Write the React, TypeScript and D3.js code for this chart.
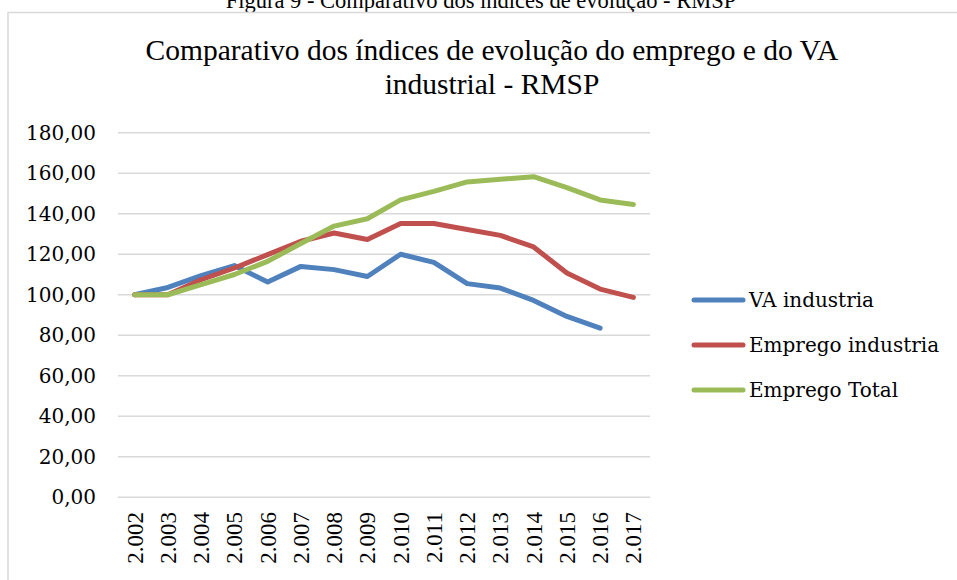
import * as d3 from "d3";
import { useEffect, useRef } from "react";

// Data
const years = [
  "2.002", "2.003", "2.004", "2.005", "2.006", "2.007", "2.008", "2.009",
  "2.010", "2.011", "2.012", "2.013", "2.014", "2.015", "2.016", "2.017",
];
const vaIndustria = [
  100, 103.6, 109.4, 114.4, 106.3, 114, 112.4, 109, 120, 116, 105.5, 103.3,
  97.2, 89.3, 83.5, null,
];
const empregoIndustria = [
  100, 100, 107.4, 113.2, 119.8, 126.4, 130.5, 127.3, 135.2, 135.2, 132.2,
  129.3, 123.6, 110.7, 102.8, 98.7,
];
const empregoTotal = [
  100, 100, 105, 110, 116.5, 125.3, 133.9, 137.5, 146.8, 151, 155.7, 157,
  158.3, 152.9, 146.8, 144.6,
];
const yTicks = [0, 20, 40, 60, 80, 100, 120, 140, 160, 180];

const series = [
  { name: "VA industria", values: vaIndustria, color: "#4F81BD" },
  { name: "Emprego industria", values: empregoIndustria, color: "#C0504D" },
  { name: "Emprego Total", values: empregoTotal, color: "#9BBB59" },
];

export default function App() {
  const svgRef = useRef<SVGSVGElement | null>(null);
  const width = 957;
  const height = 580;

  useEffect(() => {
    const svg = d3.select(svgRef.current);
    svg.selectAll("*").remove();

    // Plot area
    const plot = { left: 118, right: 650, top: 132.7, bottom: 497.3 };

    const x = d3
      .scaleBand<string>()
      .domain(years)
      .range([plot.left, plot.right]);
    const y = d3.scaleLinear().domain([0, 180]).range([plot.bottom, plot.top]);

    svg
      .append("rect")
      .attr("width", width)
      .attr("height", height)
      .attr("fill", "#fff");

    // Caption above the chart (cut off at the top)
    svg
      .append("text")
      .attr("x", 481)
      .attr("y", 8)
      .attr("text-anchor", "middle")
      .attr("font-family", "Liberation Serif")
      .attr("font-size", 22.5)
      .attr("fill", "#000")
      .text("Figura 9 - Comparativo dos índices de evolução - RMSP");

    // Chart border
    svg
      .append("rect")
      .attr("x", 8)
      .attr("y", 12.5)
      .attr("width", 960)
      .attr("height", 600)
      .attr("fill", "#fff")
      .attr("stroke", "#D9D9D9")
      .attr("stroke-width", 1.5);

    // Title
    const title = svg
      .append("text")
      .attr("text-anchor", "middle")
      .attr("font-family", "Liberation Serif")
      .attr("font-size", 29.5)
      .attr("fill", "#000");
    title
      .append("tspan")
      .attr("x", 492)
      .attr("y", 60)
      .text("Comparativo dos índices de evolução do emprego e do VA");
    title.append("tspan").attr("x", 492).attr("y", 94).text("industrial - RMSP");

    // Gridlines
    svg
      .append("g")
      .selectAll("line")
      .data(yTicks)
      .join("line")
      .attr("x1", plot.left)
      .attr("x2", plot.right)
      .attr("y1", (d) => y(d))
      .attr("y2", (d) => y(d))
      .attr("stroke", "#D9D9D9")
      .attr("stroke-width", 1.5);

    // Y axis labels
    const fmt = (d: number) => d3.format(".2f")(d).replace(".", ",");
    svg
      .append("g")
      .selectAll("text")
      .data(yTicks)
      .join("text")
      .attr("x", 96)
      .attr("y", (d) => y(d))
      .attr("dy", "0.35em")
      .attr("text-anchor", "end")
      .attr("font-family", "DejaVu Serif")
      .attr("font-size", 20)
      .attr("fill", "#000")
      .text(fmt);

    // X axis labels (rotated)
    svg
      .append("g")
      .selectAll("text")
      .data(years)
      .join("text")
      .attr(
        "transform",
        (d) => `translate(${x(d)! + x.bandwidth() / 2},512) rotate(-90)`,
      )
      .attr("dy", "0.35em")
      .attr("text-anchor", "end")
      .attr("font-family", "Liberation Serif")
      .attr("font-size", 23)
      .attr("fill", "#000")
      .text((d) => d);

    // Lines
    const line = d3
      .line<number | null>()
      .defined((d) => d !== null)
      .x((d, i) => x(years[i])! + x.bandwidth() / 2)
      .y((d) => y(d as number));

    series.forEach((s) => {
      svg
        .append("path")
        .datum(s.values)
        .attr("fill", "none")
        .attr("stroke", s.color)
        .attr("stroke-width", 5)
        .attr("stroke-linejoin", "round")
        .attr("stroke-linecap", "round")
        .attr("d", line);
    });

    // Legend
    const legend = svg
      .append("g")
      .selectAll("g")
      .data(series)
      .join("g")
      .attr("transform", (d, i) => `translate(0,${300 + i * 45})`);
    legend
      .append("line")
      .attr("x1", 694)
      .attr("x2", 743)
      .attr("stroke", (d) => d.color)
      .attr("stroke-width", 5)
      .attr("stroke-linecap", "round");
    legend
      .append("text")
      .attr("x", 749)
      .attr("dy", "0.35em")
      .attr("font-family", "DejaVu Serif")
      .attr("font-size", 20)
      .attr("fill", "#000")
      .text((d) => d.name);
  }, []);

  return (
    <svg
      ref={svgRef}
      width={width}
      height={height}
      style={{ position: "absolute", left: 0, top: 0 }}
    ></svg>
  );
}
